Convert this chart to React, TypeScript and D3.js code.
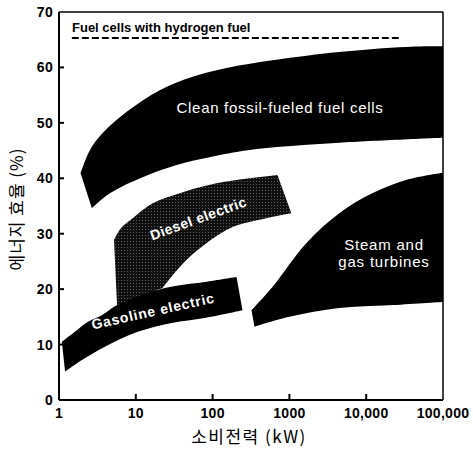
import React from 'react';
import * as d3 from 'd3';

type P = [number, number];

const xTicks = [1, 10, 100, 1000, 10000, 100000];
const xTickLabels = ['1', '10', '100', '1000', '10,000', '100,000'];
const yTicks = [0, 10, 20, 30, 40, 50, 60, 70];

// [kW, efficiency %]
const hydrogenLine: P[] = [[1.47, 65.3], [28000, 65.3]];

const cleanUpper: P[] = [[1.91, 40.9], [2.53, 45.1], [3.73, 48.2], [7.6, 52.0], [20.5, 55.9], [55, 58.3], [152, 59.9], [600, 61.3], [4460, 62.8], [33000, 63.7], [100000, 63.8]];
const cleanLower: P[] = [[2.68, 34.6], [4.6, 37.3], [12.3, 40.2], [34, 42.4], [91, 43.8], [302, 45.1], [4460, 46.4], [100000, 47.3]];

const dieselUpper: P[] = [[5.2, 28.9], [6.4, 31.0], [9.1, 32.8], [16.6, 35.5], [41, 37.5], [112, 39.1], [302, 40.0], [700, 40.6]];
const dieselLower: P[] = [[22.4, 20.2], [25, 21.1], [46, 25.3], [83, 28.3], [182, 31.2], [500, 32.8], [1060, 33.7]];
const dieselBase: P = [5.7, 17.1];

const gasolineUpper: P[] = [[1.09, 10.5], [1.61, 12.3], [2.38, 14.1], [3.62, 15.3], [5.66, 17.1], [23.8, 20.2], [78.7, 21.3], [205, 22.2]];
const gasolineLower: P[] = [[1.2, 5.1], [1.99, 7.2], [3.96, 9.6], [10.6, 12.3], [29.4, 13.9], [78.7, 14.8], [245, 16.2]];

const turbineUpper: P[] = [[321, 16.2], [601, 20.4], [1660, 28.3], [4460, 33.7], [11970, 37.3], [33000, 39.7], [100000, 41.0]];
const turbineLower: P[] = [[351, 13.2], [1000, 15.0], [4460, 16.6], [19900, 17.1], [100000, 17.7]];

const W = 473;
const H = 455;

export default function App() {
  const x = d3.scaleLog().domain([1, 100000]).range([59, 443]);
  const y = d3.scaleLinear().domain([0, 70]).range([400, 12]);
  const edge = d3
    .line<P>()
    .x((d) => x(d[0]))
    .y((d) => y(d[1]))
    .curve(d3.curveCatmullRom.alpha(0.5));
  const rev = (a: P[]) => a.slice().reverse();
  const band = (upper: P[], lower: P[]) =>
    (edge(upper) as string) + 'L' + (edge(rev(lower)) as string).slice(1) + 'Z';
  const dieselPath =
    (edge(dieselUpper) as string) +
    'L' +
    (edge(rev(dieselLower)) as string).slice(1) +
    `L${x(dieselBase[0])},${y(dieselBase[1])}Z`;

  const sans = '"Liberation Sans", Arial, Helvetica, sans-serif';
  const kr = '"Noto Sans CJK KR", "Noto Sans", sans-serif';

  return (
    <svg
      width={W}
      height={H}
      style={{ position: 'absolute', left: 0, top: 0, background: '#fff' }}
    >
      <defs>
        <pattern id="halftone" width="3" height="3" patternUnits="userSpaceOnUse">
          <rect width="3" height="3" fill="#101010" />
          <rect x="1" y="1" width="1" height="1" fill="#5e5e5e" />
        </pattern>
      </defs>

      {/* regions */}
      <path d={band(cleanUpper, cleanLower)} fill="#000" />
      <path d={dieselPath} fill="url(#halftone)" />
      <path d={band(gasolineUpper, gasolineLower)} fill="#000" />
      <path d={band(turbineUpper, turbineLower)} fill="#000" />

      {/* hydrogen fuel cells */}
      <line
        x1={x(hydrogenLine[0][0])}
        x2={x(hydrogenLine[1][0])}
        y1={y(hydrogenLine[0][1])}
        y2={y(hydrogenLine[1][1])}
        stroke="#000"
        strokeWidth={2}
        strokeDasharray="7,3"
      />
      <text x={72} y={32} fontFamily={sans} fontWeight="bold" fontSize={13} fill="#000">
        Fuel cells with hydrogen fuel
      </text>

      {/* region labels */}
      <text x={280} y={113} textAnchor="middle" fontFamily={sans} fontSize={15} letterSpacing={0.7} fill="#fff">
        Clean fossil-fueled fuel cells
      </text>
      <text
        transform="translate(200,223) rotate(-20)"
        textAnchor="middle"
        fontFamily={sans}
        fontWeight="bold"
        fontSize={14}
        letterSpacing={0.5}
        fill="#fff"
      >
        Diesel electric
      </text>
      <text
        transform="translate(154,316) rotate(-12.5)"
        textAnchor="middle"
        fontFamily={sans}
        fontWeight="bold"
        fontSize={14}
        letterSpacing={0.8}
        fill="#fff"
      >
        Gasoline electric
      </text>
      <text textAnchor="middle" fontFamily={sans} fontSize={15} letterSpacing={0.8} fill="#fff">
        <tspan x={384} y={250}>Steam and</tspan>
        <tspan x={384} y={267}>gas turbines</tspan>
      </text>

      {/* frame */}
      <line x1={x(1)} x2={x(100000)} y1={y(70)} y2={y(70)} stroke="#000" strokeWidth={1.5} />
      <line x1={x(100000)} x2={x(100000)} y1={y(70)} y2={y(0)} stroke="#000" strokeWidth={1.5} />
      <line x1={x(1)} x2={x(1)} y1={y(70)} y2={y(0)} stroke="#000" strokeWidth={2} />
      <line x1={x(1)} x2={x(100000)} y1={y(0)} y2={y(0)} stroke="#000" strokeWidth={2} />

      {/* y ticks */}
      {yTicks.map((t) => (
        <g key={'y' + t}>
          {t > 0 && t < 70 && (
            <line x1={x(1)} x2={x(1) + 5} y1={y(t)} y2={y(t)} stroke="#000" strokeWidth={2} />
          )}
          <text
            x={x(1) - 6}
            y={y(t)}
            dy="0.36em"
            textAnchor="end"
            fontFamily={sans}
            fontWeight="bold"
            fontSize={14}
            letterSpacing={0.3}
            fill="#000"
          >
            {t}
          </text>
        </g>
      ))}

      {/* x ticks */}
      {xTicks.map((t, i) => (
        <g key={'x' + t}>
          {i > 0 && i < xTicks.length - 1 && (
            <line x1={x(t)} x2={x(t)} y1={y(0)} y2={y(0) - 6} stroke="#000" strokeWidth={2} />
          )}
          <text
            x={x(t)}
            y={418}
            textAnchor="middle"
            fontFamily={sans}
            fontWeight="bold"
            fontSize={14}
            letterSpacing={0.3}
            fill="#000"
          >
            {xTickLabels[i]}
          </text>
        </g>
      ))}

      {/* axis titles */}
      <text
        transform="translate(23,209) rotate(-90)"
        textAnchor="middle"
        fontFamily={kr}
        fontSize={17}
        letterSpacing={1}
        fill="#000"
      >
        에너지 효율 (%)
      </text>
      <text x={249} y={443} textAnchor="middle" fontFamily={kr} fontSize={17} letterSpacing={1.5} fill="#000">
        소비전력 (kW)
      </text>
    </svg>
  );
}
